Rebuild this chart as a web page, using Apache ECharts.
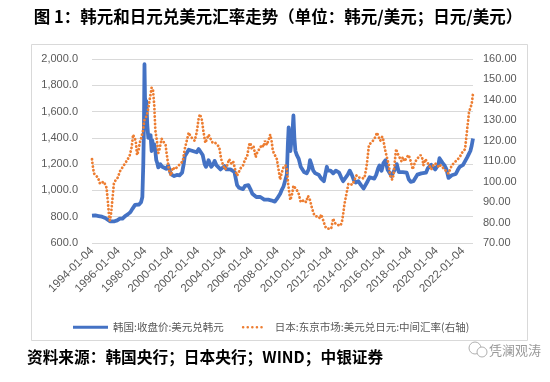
<!DOCTYPE html>
<html>
<head>
<meta charset="utf-8">
<script src="https://cdn.jsdelivr.net/npm/echarts@6/dist/echarts.min.js"></script>
<style>
html,body{margin:0;padding:0;background:#fff;}
#c{width:550px;height:382px;}
</style>
</head>
<body>
<div id="c"></div>
<script>
// ---- Data ----
var xTickYears = [1994,1996,1998,2000,2002,2004,2006,2008,2010,2012,2014,2016,2018,2020,2022];
var seriesNames = ['韩国:收盘价:美元兑韩元', '日本:东京市场:美元兑日元:中间汇率(右轴)'];

var krwYears = [1994.0,1994.25,1994.5,1994.75,1995.0,1995.15,1995.35,1995.5,1995.7,1995.9,
1996.1,1996.3,1996.5,1996.7,1996.9,1997.05,1997.25,1997.4,1997.55,1997.7,1997.8,1997.87,1997.92,1997.96,
1998.0,1998.05,1998.1,1998.17,1998.25,1998.33,1998.42,1998.5,1998.55,1998.62,1998.7,1998.78,1998.85,1998.92,
1999.0,1999.15,1999.3,1999.45,1999.6,1999.75,1999.9,2000.0,2000.2,2000.4,2000.6,2000.8,2000.92,
2001.0,2001.15,2001.3,2001.45,2001.6,2001.75,2001.9,2002.05,2002.2,2002.35,2002.5,2002.6,2002.7,2002.8,2002.9,
2003.0,2003.15,2003.25,2003.4,2003.55,2003.7,2003.85,2004.0,2004.15,2004.3,2004.45,2004.6,2004.75,2004.85,2004.95,
2005.1,2005.25,2005.4,2005.55,2005.65,2005.8,2005.95,2006.1,2006.25,2006.4,2006.55,2006.7,2006.85,
2007.0,2007.15,2007.3,2007.5,2007.65,2007.8,2007.95,2008.1,2008.2,2008.3,2008.45,2008.6,2008.7,2008.78,2008.84,2008.9,2008.97,
2009.05,2009.15,2009.2,2009.27,2009.35,2009.45,2009.6,2009.75,2009.9,2010.0,2010.2,2010.35,2010.45,2010.55,2010.7,2010.85,2010.95,
2011.1,2011.3,2011.5,2011.65,2011.72,2011.8,2011.9,2012.0,2012.2,2012.4,2012.5,2012.65,2012.8,2012.95,
2013.1,2013.3,2013.45,2013.6,2013.75,2013.9,2014.1,2014.3,2014.5,2014.6,2014.8,2014.95,
2015.1,2015.3,2015.45,2015.6,2015.7,2015.85,2016.0,2016.15,2016.3,2016.45,2016.6,2016.75,2016.9,
2017.0,2017.15,2017.3,2017.45,2017.6,2017.75,2017.9,2018.05,2018.25,2018.4,2018.55,2018.7,2018.85,
2019.0,2019.2,2019.35,2019.5,2019.6,2019.75,2019.9,2020.0,2020.15,2020.22,2020.3,2020.45,2020.6,2020.75,2020.9,
2021.0,2021.15,2021.3,2021.45,2021.6,2021.75,2021.9,2022.0,2022.15,2022.3,2022.45,2022.55,2022.65,2022.75];
var krwRates = [808,810,805,800,790,778,765,760,765,772,
785,785,805,818,835,860,890,890,893,910,950,1200,1500,1960,
1700,1600,1680,1500,1400,1390,1420,1300,1380,1310,1350,1300,1230,1210,
1175,1200,1180,1190,1165,1190,1140,1120,1110,1118,1115,1135,1200,
1260,1270,1310,1295,1300,1300,1290,1315,1325,1270,1200,1180,1200,1230,1220,
1180,1200,1225,1190,1180,1160,1175,1185,1160,1165,1160,1155,1140,1090,1040,
1020,1015,1010,1035,1045,1040,1010,975,960,950,955,950,935,
930,940,930,925,925,915,935,945,975,1000,1030,1040,1120,1350,1480,1400,1300,
1380,1480,1570,1400,1300,1270,1240,1180,1165,1140,1130,1160,1230,1200,1150,1130,1140,
1120,1090,1070,1080,1180,1150,1140,1150,1130,1150,1160,1135,1100,1070,
1080,1120,1150,1120,1080,1060,1070,1040,1015,1020,1070,1100,
1100,1090,1120,1170,1190,1150,1210,1230,1160,1160,1110,1110,1170,
1200,1140,1130,1140,1130,1135,1085,1065,1070,1075,1120,1115,1130,
1120,1135,1170,1170,1195,1190,1160,1165,1200,1245,1230,1210,1190,1160,1095,
1090,1115,1120,1125,1155,1180,1185,1195,1210,1250,1280,1300,1340,1395];

var jpyYears = [1994.0,1994.05,1994.15,1994.3,1994.45,1994.6,1994.75,1994.9,1995.0,1995.1,1995.2,1995.3,1995.35,1995.45,1995.55,1995.65,1995.8,1995.95,
1996.1,1996.3,1996.5,1996.7,1996.85,1997.0,1997.1,1997.2,1997.3,1997.4,1997.5,1997.6,1997.7,1997.85,1997.95,
1998.05,1998.2,1998.35,1998.5,1998.6,1998.7,1998.78,1998.9,1999.0,1999.1,1999.25,1999.4,1999.55,1999.65,1999.8,1999.95,
2000.1,2000.25,2000.4,2000.55,2000.7,2000.85,2001.0,2001.15,2001.3,2001.45,2001.6,2001.75,2001.9,
2002.05,2002.15,2002.3,2002.4,2002.55,2002.7,2002.8,2002.95,2003.1,2003.3,2003.45,2003.6,2003.75,2003.9,
2004.05,2004.2,2004.35,2004.5,2004.65,2004.8,2004.95,2005.1,2005.25,2005.4,2005.55,2005.7,2005.85,2005.95,
2006.05,2006.2,2006.35,2006.5,2006.65,2006.8,2006.95,2007.05,2007.2,2007.35,2007.45,2007.55,2007.65,2007.8,2007.95,
2008.05,2008.2,2008.3,2008.45,2008.6,2008.7,2008.8,2008.9,2008.97,2009.1,2009.2,2009.3,2009.45,2009.6,2009.75,2009.9,
2010.0,2010.15,2010.3,2010.45,2010.6,2010.75,2010.9,2011.1,2011.2,2011.3,2011.45,2011.6,2011.75,2011.9,
2012.05,2012.2,2012.3,2012.45,2012.6,2012.75,2012.85,2012.95,2013.05,2013.2,2013.35,2013.5,2013.65,2013.8,2013.95,
2014.1,2014.3,2014.5,2014.6,2014.75,2014.9,2015.05,2015.2,2015.4,2015.5,2015.6,2015.75,2015.9,
2016.0,2016.1,2016.25,2016.4,2016.5,2016.65,2016.75,2016.85,2016.95,2017.05,2017.2,2017.35,2017.45,2017.6,2017.75,2017.9,
2018.05,2018.2,2018.35,2018.5,2018.65,2018.8,2018.95,2019.0,2019.15,2019.3,2019.45,2019.6,2019.75,2019.9,
2020.05,2020.2,2020.3,2020.45,2020.6,2020.75,2020.9,2021.0,2021.15,2021.3,2021.45,2021.6,2021.75,2021.9,
2022.05,2022.15,2022.25,2022.35,2022.45,2022.55,2022.65,2022.75];
var jpyRates = [111,108,104,103,102,99,99,100,100,97,90,82,81,85,92,99,101,102,
105,107,109,111,113,117,123,123,120,113,115,119,121,125,130,
131,134,140,146,145,137,125,120,114,116,121,121,118,113,106,103,
107,106,107,108,108,110,116,120,124,122,121,120,124,
131,133,130,125,119,119,123,121,119,119,118,117,111,108,
106,108,111,109,110,106,103,105,107,108,111,112,118,119,
116,117,112,115,116,118,117,120,118,121,123,120,115,115,111,
107,101,104,107,108,106,99,94,91,94,98,98,96,94,90,90,
91,90,93,91,87,84,83,83,82,84,81,78,77,77.5,
77,82,80,79,78.5,78.5,80,84,89,94,99,99,98.5,98,103,
102,102,101.5,103,109,118,119,120,122,124,124,120,122,
120,116,112,108,103,101,103,110,116,114,112,110,112,110,112,113,
110,106,109,111,111,113,111,108,111,111,108,106,108,109,
109,107,108,107,106,105,104,103.5,108,109,110,110,112,114,
115,116,122,128,134,136,138,143];

function pairs(xs, ys){ return xs.map(function(x,i){ return [x, ys[i]]; }); }

// legend icons: a solid bar, and a row of five dots (path bounding box 35 x 3)
var dotIcon = 'path://M0 0M35 3' + [7, 11.6, 16.2, 20.8, 25.4].map(function(x){
  return 'M' + x + ' 1.5a1.3 1.3 0 1 0 2.6 0a1.3 1.3 0 1 0 -2.6 0Z';
}).join('');
var barIcon = 'path://M0 0L35 0L35 3L0 3Z';

var chart = echarts.init(document.getElementById('c'), null, {renderer:'canvas'});
var axisFont = '"Liberation Sans", Arial, sans-serif';
var cjkFont = '"Noto Sans CJK SC", sans-serif';

chart.setOption({
  animation: false,
  backgroundColor: '#fff',
  grid: {left: 92, right: 77, top: 59, bottom: 139},
  legend: {
    left: 68, top: 317,
    itemWidth: 35, itemHeight: 10, itemGap: 11,
    itemStyle: {borderWidth: 0},
    textStyle: {color: '#595959', fontSize: 10.5, fontFamily: cjkFont},
    data: [{name: seriesNames[0], icon: barIcon}, {name: seriesNames[1], icon: dotIcon}]
  },
  xAxis: {
    type: 'value', min: xTickYears[0], max: 2022.75, interval: 2,
    axisLine: {show: false}, axisTick: {show: false}, splitLine: {show: false},
    axisLabel: {
      rotate: 45, margin: 6, color: '#595959', fontSize: 11.5, fontFamily: axisFont,
      showMaxLabel: false,
      formatter: function(v){ return xTickYears.indexOf(v) >= 0 ? v + '-01-04' : ''; }
    }
  },
  yAxis: [{
    type: 'value', min: 600, max: 2000, interval: 200,
    axisLine: {show: false}, axisTick: {show: false},
    splitLine: {lineStyle: {color: '#d9d9d9', width: 1}},
    axisLabel: {margin: 14, color: '#595959', fontSize: 11, fontFamily: axisFont,
      formatter: function(v){ return v.toLocaleString('en-US', {minimumFractionDigits:1, maximumFractionDigits:1}); }}
  }, {
    type: 'value', min: 70, max: 160, interval: 10, position: 'right',
    axisLine: {show: false}, axisTick: {show: false}, splitLine: {show: false},
    axisLabel: {margin: 10, color: '#595959', fontSize: 11, fontFamily: axisFont,
      formatter: function(v){ return v.toFixed(2); }}
  }],
  series: [{
    name: seriesNames[0], type: 'line', yAxisIndex: 0,
    data: pairs(krwYears, krwRates), showSymbol: false, symbol: 'none',
    lineStyle: {color: '#4472C4', width: 3.8, join: 'round'},
    itemStyle: {color: '#4472C4'}
  }, {
    name: seriesNames[1], type: 'line', yAxisIndex: 1,
    data: pairs(jpyYears, jpyRates), showSymbol: false, symbol: 'none',
    lineStyle: {color: '#ED7D31', width: 2.8, type: [0.1, 3.6], cap: 'round'},
    itemStyle: {color: '#ED7D31'}
  }],
  graphic: [
    {type: 'rect', shape: {x: 31.5, y: 44.5, width: 496, height: 296}, style: {fill: 'none', stroke: '#d9d9d9', lineWidth: 1}, silent: true},
    {type: 'text', x: 278, y: 17, style: {text: '图 1：韩元和日元兑美元汇率走势（单位：韩元/美元；日元/美元）', font: 'bold 16.5px ' + cjkFont, fill: '#000', align: 'center', verticalAlign: 'middle'}},
    {type: 'text', x: 27, y: 357, style: {text: '资料来源：韩国央行；日本央行；WIND；中银证券', font: 'bold 15.7px ' + cjkFont, fill: '#000', align: 'left', verticalAlign: 'middle'}},
    {type: 'circle', shape: {cx: 475, cy: 348, r: 6}, style: {fill: '#fff', stroke: '#b0b0b0', lineWidth: 1}},
    {type: 'circle', shape: {cx: 482, cy: 352, r: 5}, style: {fill: '#fff', stroke: '#b0b0b0', lineWidth: 1}},
    {type: 'text', x: 489, y: 350, style: {text: '凭澜观涛', font: '13px ' + cjkFont, fill: '#999', align: 'left', verticalAlign: 'middle'}}
  ]
});
</script>
</body>
</html>
